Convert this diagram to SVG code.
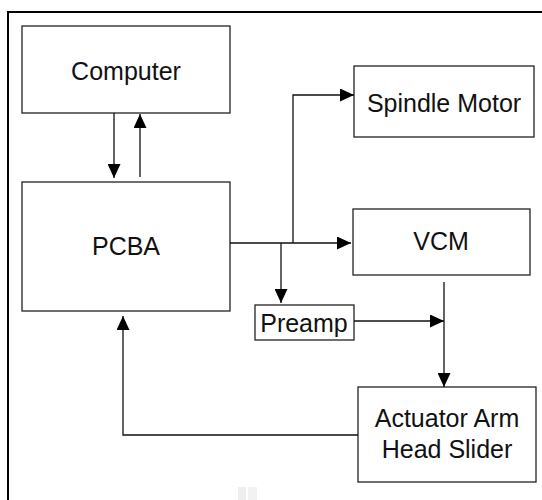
<svg xmlns="http://www.w3.org/2000/svg" width="542" height="500" viewBox="0 0 542 500">
<defs>
<style>
.box{fill:#fff;stroke:#222;stroke-width:1.3}
.lbl{font-family:"Liberation Sans",Arial,sans-serif;font-size:25px;fill:#111;text-anchor:middle}
.con{fill:none;stroke:#111;stroke-width:1.3}
</style>
<marker id="ah" markerUnits="userSpaceOnUse" markerWidth="14" markerHeight="13" refX="14" refY="6.5" orient="auto">
<path d="M0,0 L14,6.5 L0,13 z" fill="#000"/>
</marker>
</defs>
<rect x="0" y="0" width="542" height="500" fill="#fff"/>
<rect x="8" y="12" width="540" height="500" fill="none" stroke="#000" stroke-width="2"/>
<g id="computer"><rect class="box" x="22" y="26" width="208" height="87"/><text class="lbl" x="126" y="80">Computer</text></g>
<g id="pcba"><rect class="box" x="22" y="182" width="208" height="129"/><text class="lbl" x="126" y="255">PCBA</text></g>
<g id="spindle"><rect class="box" x="354" y="66" width="180" height="71"/><text class="lbl" x="444" y="112">Spindle Motor</text></g>
<g id="vcm"><rect class="box" x="353" y="209" width="177" height="66"/><text class="lbl" x="441" y="250">VCM</text></g>
<g id="preamp"><rect class="box" x="255" y="305" width="99" height="35"/><text class="lbl" x="304" y="332">Preamp</text></g>
<g id="actuator"><rect class="box" x="358" y="387" width="178" height="95"/><text class="lbl" x="447" y="427">Actuator Arm</text><text class="lbl" x="447" y="458">Head Slider</text></g>
<g id="connectors">
<path class="con" d="M114 113 V178" marker-end="url(#ah)"/>
<path class="con" d="M140 177 V114" marker-end="url(#ah)"/>
<path class="con" d="M230 243 H351" marker-end="url(#ah)"/>
<path class="con" d="M293 243 V95 H354" marker-end="url(#ah)"/>
<path class="con" d="M281 243 V303" marker-end="url(#ah)"/>
<path class="con" d="M354 321 H444" marker-end="url(#ah)"/>
<path class="con" d="M444 282 V387" marker-end="url(#ah)"/>
<path class="con" d="M358 435 H123 V316" marker-end="url(#ah)"/>
</g>
<rect x="238" y="487" width="8" height="13" fill="#eee"/><rect x="248" y="487" width="9" height="13" fill="#f2f2f2"/>
</svg>
